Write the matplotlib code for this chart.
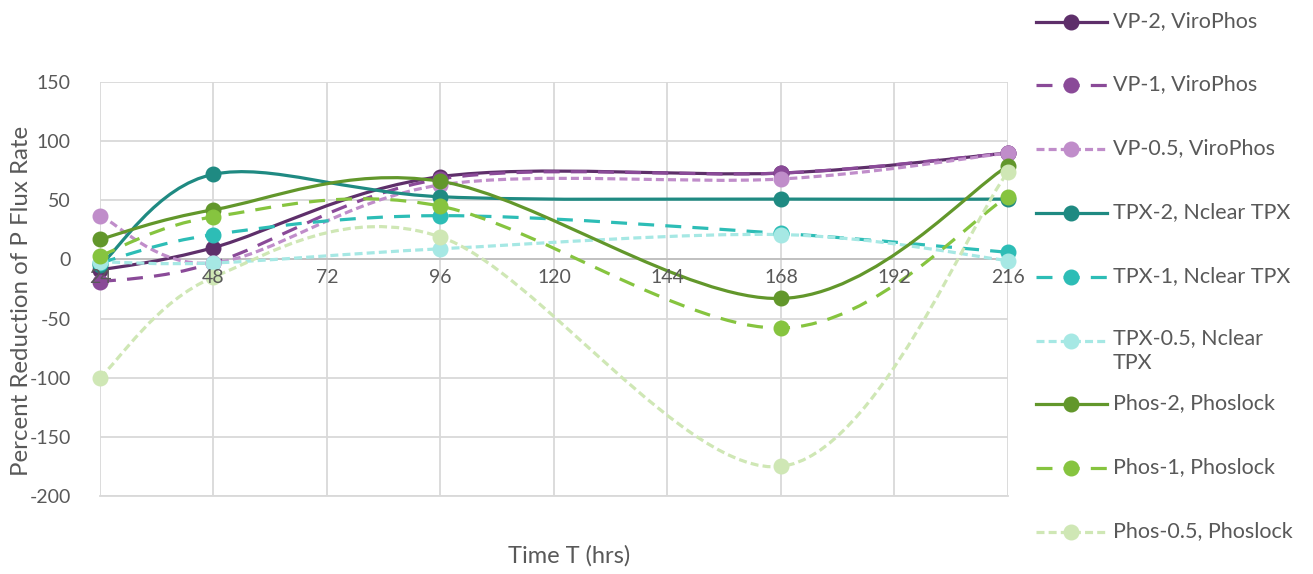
import numpy as np
import matplotlib
matplotlib.use('Agg')
import matplotlib.pyplot as plt
from matplotlib.path import Path
from matplotlib.patches import PathPatch
from matplotlib.lines import Line2D

plt.rcParams['font.family'] = ['Lato', 'DejaVu Sans']
plt.rcParams['axes.unicode_minus'] = False

# sampling times (hrs)
times = [24, 48, 96, 168, 216]
x_ticks = [24, 48, 72, 96, 120, 144, 168, 192, 216]

labels = ['VP-2, ViroPhos', 'VP-1, ViroPhos', 'VP-0.5, ViroPhos',
          'TPX-2, Nclear TPX', 'TPX-1, Nclear TPX', 'TPX-0.5, Nclear\nTPX',
          'Phos-2, Phoslock', 'Phos-1, Phoslock', 'Phos-0.5, Phoslock']

vp_2 = [-9, 10, 70, 73, 90]
vp_1 = [-19, -3, 68, 73, 90]
vp_05 = [37, -3, 63, 68, 90]
tpx_2 = [-5, 72, 53, 51, 51]
tpx_1 = [-3, 21, 37, 22, 6]
tpx_05 = [-2, -3, 9, 21, -1]
phos_2 = [17, 42, 66, -33, 79]
phos_1 = [3, 36, 45, -58, 53]
phos_05 = [-100, -15, 19, -175, 74]

series = [vp_2, vp_1, vp_05, tpx_2, tpx_1, tpx_05, phos_2, phos_1, phos_05]
colors = ['#5E2F6A', '#8A4A98', '#C08DCA', '#1F8A82', '#2DBDB6', '#A6E8E4',
          '#62972B', '#86C43F', '#CFE7B5']
solid = '-'
long_dash = (0, (5, 3.5))
short_dash = (0, (2.5, 1.3))
styles = [solid, long_dash, short_dash] * 3

text_color = '#595959'


def smooth_path(xs, ys):
    """Excel風の平滑線 (Catmull-Rom -> Bezier)"""
    pts = np.column_stack([xs, ys]).astype(float)
    n = len(pts)
    verts = [pts[0]]
    codes = [Path.MOVETO]
    for i in range(n - 1):
        p0 = pts[max(i - 1, 0)]
        p1 = pts[i]
        p2 = pts[i + 1]
        p3 = pts[min(i + 2, n - 1)]
        c1 = p1 + (p2 - p0) / 6.0
        c2 = p2 - (p3 - p1) / 6.0
        verts += [c1, c2, p2]
        codes += [Path.CURVE4] * 3
    return Path(verts, codes)


fig = plt.figure(figsize=(13.13, 5.74), dpi=100)
W, H = 1313, 574
ax = fig.add_axes([100 / W, 1 - 496 / H, (1008 - 100) / W, (496 - 82) / H])

ax.set_xlim(24, 216)
ax.set_ylim(-200, 150)
ax.set_xticks(x_ticks)
ax.set_xticklabels([])
ax.set_yticks(range(-200, 151, 50))
ax.grid(True, color='#D9D9D9', linewidth=1.3, zorder=0)
ax.set_axisbelow(True)
for s in ['top', 'right', 'left']:
    ax.spines[s].set_visible(False)
ax.spines['bottom'].set_position(('data', 0))
ax.spines['bottom'].set_color('#BFBFBF')
ax.spines['bottom'].set_linewidth(1.3)
ax.axhline(-200, color='#D9D9D9', linewidth=1.3, zorder=0, clip_on=False)
ax.tick_params(length=0, labelsize=14, labelcolor=text_color)
ax.tick_params(axis='y', pad=21)

for ys, c, ls in zip(series, colors, styles):
    patch = PathPatch(smooth_path(times, ys), facecolor='none', edgecolor=c,
                      linewidth=2.3, linestyle=ls, capstyle='butt', zorder=3)
    ax.add_patch(patch)
    ax.plot(times, ys, linestyle='none', marker='o', markersize=10.5,
            color=c, markeredgecolor=c, zorder=4, clip_on=False)

# x軸ラベル（系列の上に描く）
for t in x_ticks:
    ax.annotate(str(t), (t, 0), xytext=(0, -7), textcoords='offset points',
                ha='center', va='top', fontsize=14, color=text_color,
                zorder=6, annotation_clip=False)

fig.text(22 / W, 1 - 301 / H, 'Percent Reduction of P Flux Rate', fontsize=17.3,
         color=text_color, rotation=90, ha='center', va='center')
fig.text(569 / W, 1 - 556 / H, 'Time T (hrs)', fontsize=17, color=text_color,
         ha='center', va='center')

# 凡例
legend_y = [22, 85, 149, 213, 277, 341, 404, 468, 532]
for lab, c, ls, yy in zip(labels, colors, styles, legend_y):
    fy = 1 - yy / H
    fig.add_artist(Line2D([1036 / W, 1107 / W], [fy, fy], color=c, linewidth=2.3,
                          linestyle=ls, transform=fig.transFigure))
    fig.add_artist(Line2D([1071 / W], [fy], color=c, marker='o', markersize=10.5,
                          linestyle='none', transform=fig.transFigure))
    if '\n' in lab:
        fig.text(1113 / W, fy + 13 / H, lab, fontsize=15.5, color=text_color,
                 ha='left', va='top', linespacing=1.3)
    else:
        fig.text(1113 / W, fy + 0.002, lab, fontsize=15.5, color=text_color,
                 ha='left', va='center')

fig.savefig('out.png', dpi=100)
